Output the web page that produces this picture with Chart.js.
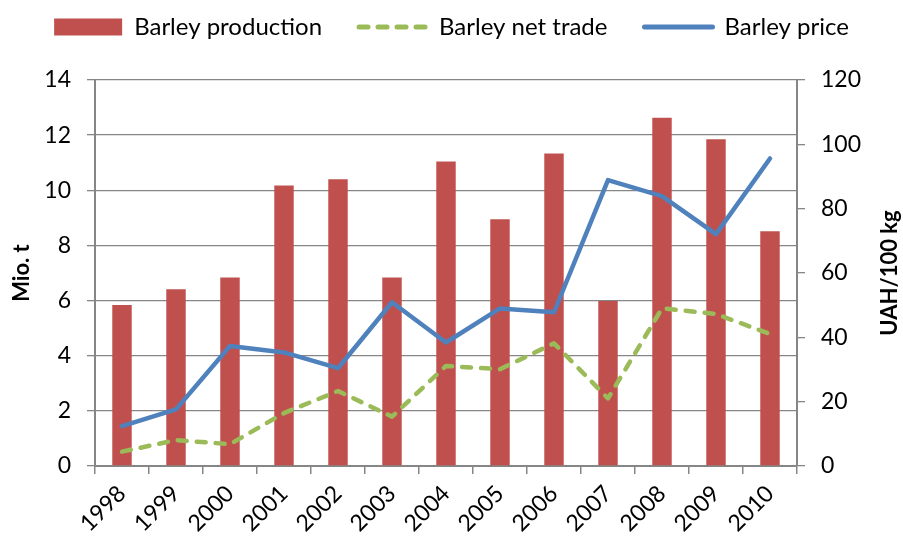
<!DOCTYPE html>
<html>
<head>
<meta charset="utf-8">
<script src="https://cdn.jsdelivr.net/npm/chart.js@4/dist/chart.umd.min.js"></script>
<style>
html,body{margin:0;padding:0;background:#fff;}
#wrap{width:903px;height:538px;position:relative;}
</style>
</head>
<body>
<div id="wrap"><canvas id="c" width="903" height="538"></canvas></div>
<script>
const years = ['1998','1999','2000','2001','2002','2003','2004','2005','2006','2007','2008','2009','2010'];
const production = [5.84, 6.41, 6.84, 10.17, 10.40, 6.84, 11.04, 8.95, 11.33, 5.98, 12.63, 11.85, 8.51];
const netTrade = [0.52, 0.94, 0.79, 1.92, 2.72, 1.79, 3.63, 3.51, 4.45, 2.45, 5.72, 5.51, 4.79];
const price = [12.4, 17.6, 37.3, 35.3, 30.4, 50.9, 38.4, 49.0, 47.8, 88.9, 83.9, 72.1, 95.6];
const leftTicks = [0, 2, 4, 6, 8, 10, 12, 14];
const rightTicks = [0, 20, 40, 60, 80, 100, 120];

const FONT = 'Lato, "Open Sans", sans-serif';
const GRID = '#868686';

const legendSpace = {
  id: 'legendSpace',
  beforeInit(chart) {
    const lg = chart.legend;
    const orig = lg.fit;
    lg.fit = function () { orig.call(this); this.height = 102; };
  }
};

const rightTitle = {
  id: 'rightTitle',
  afterDraw(chart) {
    const ctx = chart.ctx;
    const a = chart.chartArea;
    ctx.save();
    ctx.translate(890, (a.top + a.bottom) / 2);
    ctx.rotate(-Math.PI / 2);
    ctx.font = 'bold 22px ' + FONT;
    ctx.fillStyle = '#000';
    ctx.textAlign = 'center';
    ctx.textBaseline = 'middle';
    ctx.fillText('UAH/100 kg', 0, 0);
    ctx.restore();
  }
};

new Chart(document.getElementById('c'), {
  data: {
    labels: years,
    datasets: [
      {
        type: 'bar', label: 'Barley production', data: production, yAxisID: 'y', order: 3,
        backgroundColor: '#C0504D', borderWidth: 0,
        barPercentage: 0.36, categoryPercentage: 1.0
      },
      {
        type: 'line', label: 'Barley net trade', data: netTrade, yAxisID: 'y', order: 2,
        borderColor: '#9BBB59', backgroundColor: '#9BBB59', borderWidth: 4.5,
        borderDash: [9, 10], borderCapStyle: 'round', borderJoinStyle: 'round',
        pointRadius: 0, tension: 0, fill: false
      },
      {
        type: 'line', label: 'Barley price', data: price, yAxisID: 'y1', order: 1,
        borderColor: '#4F81BD', backgroundColor: '#4F81BD', borderWidth: 4.5,
        borderCapStyle: 'round', borderJoinStyle: 'round',
        pointRadius: 0, tension: 0, fill: false
      }
    ]
  },
  options: {
    responsive: false,
    animation: false,
    layout: { padding: { top: -22, left: 0, right: 0, bottom: 0 } },
    plugins: {
      tooltip: { enabled: false },
      legend: {
        position: 'top',
        labels: {
          font: { family: FONT, size: 24 },
          color: '#000',
          usePointStyle: true,
          pointStyleWidth: 68,
          boxHeight: 17,
          padding: 37,
          generateLabels(chart) {
            return chart.data.datasets.map((ds, i) => ({
              text: ds.label,
              datasetIndex: i,
              fillStyle: ds.backgroundColor,
              strokeStyle: ds.type === 'bar' ? ds.backgroundColor : ds.borderColor,
              lineWidth: ds.type === 'bar' ? 0 : 5,
              lineDash: ds.borderDash || [],
              lineCap: 'round',
              pointStyle: ds.type === 'bar' ? 'rect' : 'line',
              fontColor: '#000',
              hidden: false
            }));
          }
        }
      }
    },
    scales: {
      x: {
        offset: true,
        grid: { display: true, drawOnChartArea: false, drawTicks: true, tickLength: 8, color: GRID, offset: true, lineWidth: 1.5 },
        border: { color: GRID, width: 2 },
        ticks: { font: { family: FONT, size: 23 }, color: '#000', minRotation: 45, maxRotation: 45, padding: 6 },
        afterFit(s) { s.height = 72; }
      },
      y: {
        position: 'left', min: 0, max: 14,
        afterBuildTicks(s) { s.ticks = leftTicks.map(v => ({ value: v })); },
        grid: { color: GRID, lineWidth: 1.3, tickLength: 8 },
        border: { color: GRID, width: 2 },
        ticks: { font: { family: FONT, size: 23 }, color: '#000', padding: 16 },
        title: { display: true, text: 'Mio. t', font: { family: FONT, size: 22, weight: 'bold' }, color: '#000', padding: { top: 9, bottom: 0 } },
        afterFit(s) { s.width = 95; }
      },
      y1: {
        position: 'right', min: 0, max: 120,
        afterBuildTicks(s) { s.ticks = rightTicks.map(v => ({ value: v })); },
        grid: { drawOnChartArea: false, color: GRID, lineWidth: 1.3, tickLength: 8 },
        border: { color: GRID, width: 2 },
        ticks: { font: { family: FONT, size: 23 }, color: '#000', padding: 16 },
        afterFit(s) { s.width = 106; }
      }
    }
  },
  plugins: [legendSpace, rightTitle]
});
</script>
</body>
</html>
